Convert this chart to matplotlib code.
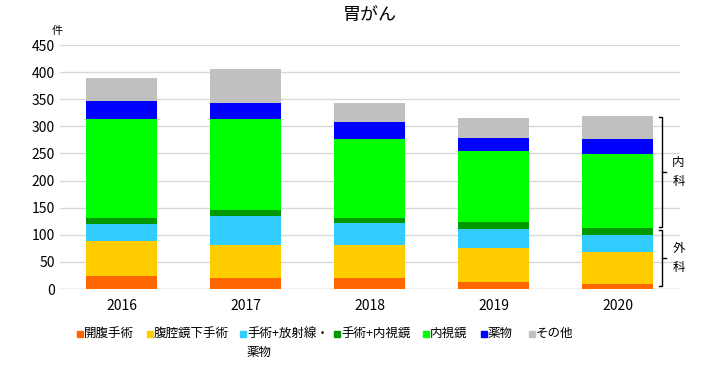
import numpy as np
import matplotlib
matplotlib.use("Agg")
import matplotlib.pyplot as plt
from matplotlib.patches import Rectangle

plt.rcParams["font.family"] = ["Noto Sans CJK JP", "DejaVu Sans"]

# data
years = ["2016", "2017", "2018", "2019", "2020"]
kaifuku = [24, 20, 20, 13, 9]
fukukukyo = [64, 61, 61, 63, 59]
shujutsu_hoshasen = [32, 54, 41, 35, 32]
shujutsu_naishikyo = [11, 11, 9, 13, 13]
naishikyo = [183, 168, 146, 131, 136]
yakubutsu = [33, 29, 31, 24, 28]
sonota = [42, 63, 35, 36, 42]

labels = ["開腹手術", "腹腔鏡下手術", "手術+放射線・\n薬物", "手術+内視鏡",
          "内視鏡", "薬物", "その他"]
colors = ["#FF6600", "#FFCC00", "#33CCFF", "#009900", "#00FF00", "#0000FF", "#C0C0C0"]
series = [kaifuku, fukukukyo, shujutsu_hoshasen, shujutsu_naishikyo,
          naishikyo, yakubutsu, sonota]

W, H = 714, 377
fig = plt.figure(figsize=(W / 100, H / 100), dpi=100)
ax = fig.add_axes([0.084, 0.2334, 0.868, 0.6472])

x = np.arange(len(years))
bottom = np.zeros(len(years))
for vals, col in zip(series, colors):
    ax.bar(x, vals, 0.573, bottom=bottom, color=col, zorder=3)
    bottom += np.array(vals)

ax.set_xlim(-0.5, len(years) - 0.5)
ax.set_ylim(0, 450)
ax.set_yticks(range(0, 451, 50))
ax.set_xticks(x)
ax.set_xticklabels(years)
ax.tick_params(axis="both", length=0, labelsize=10)
ax.tick_params(axis="x", pad=7)
ax.yaxis.grid(True, color="#D9D9D9", linewidth=1, zorder=0)
for s in ax.spines.values():
    s.set_visible(False)
ax.axhline(0, color="#D9D9D9", linewidth=1, zorder=1)

ax.set_title("胃がん", fontsize=13, pad=18)
fig.text(0.073, 0.905, "件", fontsize=8, ha="left", va="bottom")

# brackets on the right (内科 / 外科)
def bracket(y0, y1, text):
    xb = 4.36
    ax.plot([xb - 0.03, xb, xb, xb - 0.03], [y1, y1, y0, y0], color="black",
            linewidth=1, clip_on=False, zorder=4)
    ym = (y0 + y1) / 2
    ax.plot([xb, xb + 0.03], [ym, ym], color="black", linewidth=1, clip_on=False,
            zorder=4)
    ax.text(xb + 0.13, ym, "\n".join(text), fontsize=9, ha="center", va="center",
            linespacing=1.65)

bracket(115, 317, "内科")
bracket(5, 109, "外科")

# legend drawn by hand so the wrapped label hangs below its first line
leg_x = [77, 147, 240, 334, 423, 481, 529]
for lx, lab, col in zip(leg_x, labels, colors):
    fig.add_artist(Rectangle((lx / W, 1 - 337 / H), 6 / W, 6 / H, color=col,
                             transform=fig.transFigure))
    fig.text((lx + 7) / W, 1 - 327 / H, lab, fontsize=9, ha="left", va="top",
             linespacing=1.55)

fig.savefig("out.png", dpi=100)
